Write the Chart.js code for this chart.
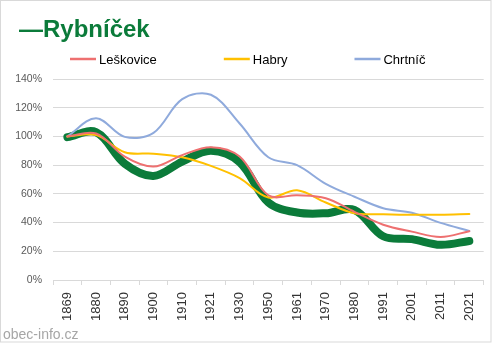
<!DOCTYPE html>
<html>
<head>
<meta charset="utf-8">
<script src="https://cdn.jsdelivr.net/npm/chart.js@4/dist/chart.umd.min.js"></script>
<style>
  html, body { margin: 0; padding: 0; background: #fff; }
  #chart { display: block; }
</style>
</head>
<body>
<canvas id="chart" width="492" height="343"></canvas>
<script>
const years = ["1869", "1880", "1890", "1900", "1910", "1921", "1930", "1950", "1961", "1970", "1980", "1991", "2001", "2011", "2021"];

// population relative to 1869, in %
const rybnicek = [99.5, 103, 81, 72.5, 82.5, 90, 82, 54, 47, 46.5, 48.8, 30.5, 28.5, 24.5, 27.2];
const leskovice = [100, 102, 86, 79, 87, 92.5, 86, 59, 59, 57, 47.5, 38.5, 33.7, 30, 34];
const habry = [100, 101, 89, 88, 85.5, 79.5, 71, 57.5, 62.5, 54, 46.5, 45.8, 45.4, 45.5, 46];
const chrtnic = [100, 112.7, 99.7, 102.5, 126, 129, 109, 85.5, 80, 67, 58, 50, 46.8, 39.8, 34.2];

const yTicks = [0, 20, 40, 60, 80, 100, 120, 140];

const GREEN = "#0b7b3a";
const FONT = "'Liberation Sans', Arial, sans-serif";

// title, legend, footer text and frame
const decor = {
  id: "decor",
  beforeDraw(chart) {
    const ctx = chart.ctx;
    ctx.save();
    ctx.fillStyle = "#fff";
    ctx.fillRect(0, 0, chart.width, chart.height);
    ctx.restore();
  },
  afterDraw(chart) {
    const ctx = chart.ctx;
    ctx.save();

    ctx.fillStyle = GREEN;
    ctx.font = "bold 24px " + FONT;
    ctx.textBaseline = "alphabetic";
    ctx.fillText("—" + chart.data.datasets[3].label, 19, 36.5);

    ctx.font = "13px " + FONT;
    let x = 70;
    chart.data.datasets.slice(0, 3).forEach(ds => {
      ctx.strokeStyle = ds.borderColor;
      ctx.lineWidth = 2.5;
      ctx.beginPath();
      ctx.moveTo(x, 59);
      ctx.lineTo(x + 26, 59);
      ctx.stroke();
      ctx.fillStyle = "#000";
      ctx.fillText(ds.label, x + 29, 64);
      x += 29 + ctx.measureText(ds.label).width + 67;
    });

    ctx.fillStyle = "#a6a6a6";
    ctx.font = "14px " + FONT;
    ctx.fillText("obec-info.cz", 3, 339);

    ctx.strokeStyle = "#d9d9d9";
    ctx.lineWidth = 1;
    ctx.strokeRect(0.5, 0.5, chart.width - 1.5, chart.height - 1.5);
    ctx.restore();
  }
};

const line = (label, data, color, width) => ({
  label,
  data,
  borderColor: color,
  backgroundColor: color,
  borderWidth: width,
  pointRadius: 0,
  tension: 0.35,
  fill: false,
  borderCapStyle: "round",
  borderJoinStyle: "round",
});

new Chart(document.getElementById("chart"), {
  type: "line",
  data: {
    labels: years,
    datasets: [
      line("Leškovice", leskovice, "#ee7070", 2),
      line("Habry", habry, "#ffc000", 2),
      line("Chrtníč", chrtnic, "#8faadc", 2),
      line("Rybníček", rybnicek, GREEN, 8),
    ],
  },
  options: {
    responsive: false,
    animation: false,
    layout: { padding: { left: 0, right: 2, top: 79, bottom: 0 } },
    plugins: {
      legend: { display: false },
      title: { display: false },
      tooltip: { enabled: false },
    },
    scales: {
      x: {
        offset: true,
        afterFit: s => { s.height = 63; },
        grid: {
          offset: true,
          drawOnChartArea: false,
          drawTicks: true,
          tickLength: 5,
          color: "#d9d9d9",
        },
        border: { display: true, color: "#d9d9d9" },
        ticks: {
          autoSkip: false,
          minRotation: 90,
          maxRotation: 90,
          padding: 7,
          color: "#333",
          font: { family: FONT, size: 13 },
        },
      },
      y: {
        min: 0,
        max: 140,
        afterFit: s => { s.width = 53; },
        afterBuildTicks: s => { s.ticks = yTicks.map(v => ({ value: v })); },
        grid: { color: "#d9d9d9", drawTicks: false },
        border: { display: false },
        ticks: {
          padding: 11,
          color: "#595959",
          font: { family: FONT, size: 10.5 },
          callback: v => v + "%",
        },
      },
    },
  },
  plugins: [decor],
});
</script>
</body>
</html>
